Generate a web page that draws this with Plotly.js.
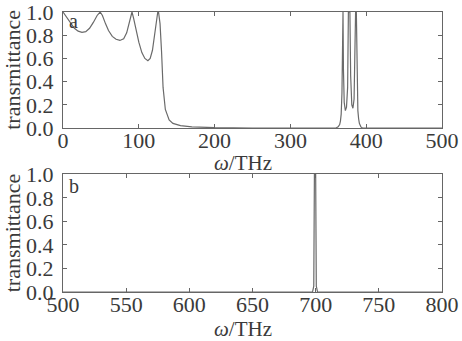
<!DOCTYPE html>
<html>
<head>
<meta charset="utf-8">
<script src="https://cdn.plot.ly/plotly-3.0.1.min.js"></script>
<style>html,body{margin:0;padding:0;background:#fff;}#chart{width:462px;height:341px;}</style>
</head>
<body>
<div id="chart"></div>
<script>
// Panel a: frequency (THz) and transmittance
const freqA = [0,5,10,15,20,25,30,35,40,45,49,52,56,60,65,70,75,80,84,87,90,91,93,96,100,104,108,112,115,118,121,123,125,126,128,130,132,135,140,145,155,170,200,250,300,350,360,363,365,366,367,368,368.6,369.4,370,371,372.5,374,375.5,376.5,378.5,379.5,381,382.5,384,385.3,386,387,387.8,389,390,391,393,395,420,500];
const transA = [1.0,0.95,0.9,0.86,0.835,0.825,0.83,0.86,0.91,0.97,1.0,0.97,0.9,0.84,0.79,0.765,0.755,0.77,0.82,0.89,0.97,1.0,0.95,0.85,0.74,0.65,0.6,0.58,0.6,0.67,0.8,0.9,1.0,1.0,0.9,0.66,0.35,0.16,0.07,0.04,0.02,0.01,0.003,0.0,0.0,0.0,0.0,0.01,0.03,0.06,0.12,0.3,1.0,1.0,0.5,0.22,0.15,0.18,0.35,1.0,1.0,0.45,0.2,0.17,0.25,0.6,1.0,1.0,0.5,0.15,0.08,0.04,0.01,0.0,0.0,0.0];
// Panel b
const freqB = [500,600,690,697.5,698.5,699,700,700.5,701.5,710,800];
const transB = [0,0,0,0,0.05,1.0,1.0,0.05,0,0,0];

const xTicksA = [0,100,200,300,400,500];
const xTicksB = [500,550,600,650,700,750,800];
const yTicks = [0,0.2,0.4,0.6,0.8,1.0];
const yTickText = ['0.0','0.2','0.4','0.6','0.8','1.0'];

const fontFam = '"Liberation Serif", "Times New Roman", serif';
const ink = '#3a3a3a';
const lineCol = '#6a6a6a';

const axisCommon = {
  showline: true, mirror: 'ticks', ticks: 'inside', ticklen: 4, tickwidth: 1,
  tickcolor: '#666', linecolor: '#666', linewidth: 1, showgrid: false, zeroline: false,
  ticklabeloverflow: 'allow',
  tickfont: {family: fontFam, size: 22, color: ink}
};
const xAxisExtra = {ticklabelstandoff: -7};
const yAxisExtra = {ticklabelstandoff: 4};

const traces = [
  {x: freqA, y: transA, type: 'scatter', mode: 'lines', line: {color: lineCol, width: 1.2}, xaxis: 'x', yaxis: 'y', showlegend: false},
  {x: freqB, y: transB, type: 'scatter', mode: 'lines', line: {color: lineCol, width: 1.2}, xaxis: 'x2', yaxis: 'y2', showlegend: false}
];

const layout = {
  width: 462, height: 341,
  margin: {l: 0, r: 0, t: 0, b: 0},
  paper_bgcolor: '#fff', plot_bgcolor: '#fff',
  font: {family: fontFam, color: ink},
  xaxis: Object.assign({}, axisCommon, xAxisExtra, {domain: [0.1364, 0.9567], range: [0, 500], tickvals: xTicksA, anchor: 'y'}),
  yaxis: Object.assign({}, axisCommon, yAxisExtra, {domain: [0.6246, 0.9655], range: [0, 1.002], tickvals: yTicks, ticktext: yTickText, anchor: 'x',
    title: {text: 'transrnittance', font: {family: fontFam, size: 22, color: ink}, standoff: 0}}),
  xaxis2: Object.assign({}, axisCommon, xAxisExtra, {domain: [0.1364, 0.9567], range: [500, 800], tickvals: xTicksB, anchor: 'y2'}),
  yaxis2: Object.assign({}, axisCommon, yAxisExtra, {domain: [0.1437, 0.4897], range: [0, 1.002], tickvals: yTicks, ticktext: yTickText, anchor: 'x2',
    title: {text: 'transmittance', font: {family: fontFam, size: 22, color: ink}, standoff: 0}}),
  annotations: [
    {text: 'a', xref: 'x domain', yref: 'y domain', x: 0.01, y: 0.92, xanchor: 'left', yanchor: 'middle', showarrow: false, font: {family: fontFam, size: 20, color: ink}},
    {text: 'b', xref: 'x2 domain', yref: 'y2 domain', x: 0.01, y: 0.9, xanchor: 'left', yanchor: 'middle', showarrow: false, font: {family: fontFam, size: 20, color: ink}},
    {text: '<i>ω</i>/THz', xref: 'paper', yref: 'paper', x: 0.527, y: 1 - 163/341, xanchor: 'center', yanchor: 'middle', showarrow: false, font: {family: fontFam, size: 21, color: ink}},
    {text: '<i>ω</i>/THz', xref: 'paper', yref: 'paper', x: 0.527, y: 1 - 329/341, xanchor: 'center', yanchor: 'middle', showarrow: false, font: {family: fontFam, size: 21, color: ink}}
  ]
};

Plotly.newPlot('chart', traces, layout, {displayModeBar: false, staticPlot: true});
</script>
</body>
</html>
